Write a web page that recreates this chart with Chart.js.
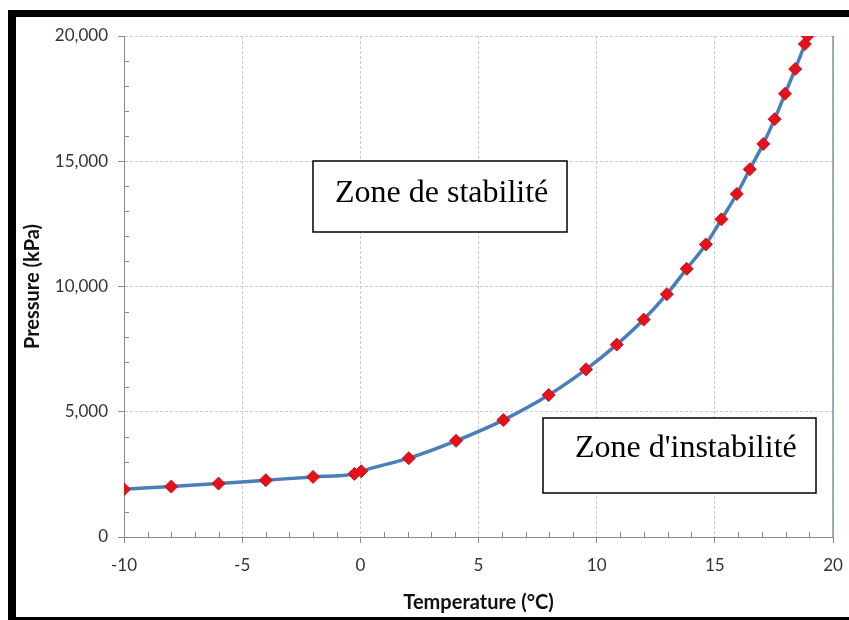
<!DOCTYPE html>
<html><head><meta charset="utf-8">
<script src="https://cdn.jsdelivr.net/npm/chart.js@4"></script>
<style>html,body{margin:0;padding:0;background:#fff;}#wrap{width:849px;height:620px;}</style>
</head><body><div id="wrap"><canvas id="c" width="849" height="620"></canvas></div>
<script>
const temperatures = [-10, -8, -6, -4, -2, -0.25, 0.04, 2.05, 4.05, 6.05, 7.97, 9.55, 10.85, 11.99, 12.97, 13.81, 14.62, 15.28, 15.93, 16.48, 17.05, 17.53, 17.97, 18.40, 18.81, 18.93];
const pressures = [1908, 2012, 2133, 2267, 2400, 2520, 2627, 3147, 3840, 4667, 5667, 6693, 7680, 8680, 9693, 10707, 11680, 12680, 13693, 14680, 15693, 16680, 17693, 18680, 19680, 20000];
const xMajorValues = [-10, -5, 0, 5, 10, 15, 20];
const xTickLabels = ['-10', '-5', '0', '5', '10', '15', '20'];
const yMajorValues = [0, 5000, 10000, 15000, 20000];
const yTickLabels = ['0', '5,000', '10,000', '15,000', '20,000'];
const zoneLabels = ['Zone de stabilité', "Zone d'instabilité"];
const xTitle = 'Temperature (°C)';
const yTitle = 'Pressure (kPa)';

const points = temperatures.map((t, i) => ({x: t, y: pressures[i]}));
const GRID = '#c3cbd6';
const AXIS = '#8a8a8a';
const isMajor = (arr, v) => arr.some(m => Math.abs(m - v) < 1e-6);

const decor = {
  id: 'decor',
  beforeDatasetsDraw(chart) {
    const ctx = chart.ctx, a = chart.chartArea;
    const xs = chart.scales.x, ys = chart.scales.y;
    ctx.save();
    ctx.strokeStyle = AXIS; ctx.lineWidth = 1;
    ctx.beginPath();
    xs.ticks.forEach(t => {
      if (!isMajor(xMajorValues, t.value)) {
        const px = Math.round(xs.getPixelForValue(t.value)) + 0.5;
        ctx.moveTo(px, a.bottom); ctx.lineTo(px, a.bottom - 5);
      }
    });
    ys.ticks.forEach(t => {
      if (!isMajor(yMajorValues, t.value)) {
        const py = Math.round(ys.getPixelForValue(t.value)) + 0.5;
        ctx.moveTo(a.left, py); ctx.lineTo(a.left + 5, py);
      }
    });
    ctx.stroke();
    ctx.strokeStyle = '#7f93ad'; ctx.lineWidth = 1.5;
    ctx.beginPath();
    ctx.moveTo(a.right, a.top); ctx.lineTo(a.right, a.bottom);
    ctx.stroke();
    ctx.restore();
  },
  afterDraw(chart) {
    const ctx = chart.ctx, a = chart.chartArea;
    ctx.save();
    const boxes = [
      {l: a.left + 189, t: a.top + 125, w: 254, h: 71, tx: a.left + 211, ty: a.top + 166},
      {l: a.left + 419, t: a.top + 382, w: 273, h: 75, tx: a.left + 451, ty: a.top + 421}
    ];
    boxes.forEach((b, i) => {
      ctx.fillStyle = '#fff';
      ctx.fillRect(b.l, b.t, b.w, b.h);
      ctx.strokeStyle = '#000'; ctx.lineWidth = 1.5;
      ctx.strokeRect(b.l, b.t, b.w, b.h);
      ctx.fillStyle = '#000';
      ctx.font = '32px "Liberation Serif", "Times New Roman", serif';
      ctx.textBaseline = 'alphabetic'; ctx.textAlign = 'left';
      ctx.fillText(zoneLabels[i], b.tx, b.ty);
    });
    ctx.fillStyle = '#000';
    ctx.fillRect(8, 10, 841, 7);
    ctx.fillRect(8, 10, 8, 610);
    ctx.fillRect(8, 617, 841, 3);
    ctx.restore();
  }
};

new Chart(document.getElementById('c'), {
  type: 'scatter',
  data: {
    datasets: [{
      data: points,
      showLine: true,
      borderColor: '#4a7ebb',
      borderWidth: 3.5,
      cubicInterpolationMode: 'monotone',
      pointStyle: 'rectRot',
      pointRadius: 6.5,
      pointHoverRadius: 6.5,
      pointBackgroundColor: '#e3121b',
      pointBorderColor: '#d0101a',
      pointBorderWidth: 1
    }]
  },
  options: {
    responsive: false,
    devicePixelRatio: 1,
    animation: false,
    layout: {padding: {left: 0, top: 36, right: 16, bottom: 0}},
    plugins: {legend: {display: false}, tooltip: {enabled: false}},
    scales: {
      x: {
        type: 'linear', min: -10, max: 20,
        afterFit(s) { s.height = 83; s.paddingLeft = 0; s.paddingRight = 0; },
        ticks: {
          stepSize: 1, autoSkip: false, maxRotation: 0, padding: 12,
          color: '#333', font: {family: 'Lato', size: 17},
          callback(v) { const i = xMajorValues.findIndex(m => Math.abs(m - v) < 1e-6); return i >= 0 ? xTickLabels[i] : ''; }
        },
        grid: {
          color: c => (c.tick && isMajor(xMajorValues, c.tick.value)) ? GRID : 'rgba(0,0,0,0)',
          tickColor: c => (c.tick && isMajor(xMajorValues, c.tick.value)) ? AXIS : 'rgba(0,0,0,0)',
          tickLength: 6, lineWidth: 1
        },
        border: {color: AXIS, width: 1, dash: [3, 2]},
        title: {display: true, text: xTitle, color: '#111', font: {family: 'Lato', size: 20, weight: 'bold'}, padding: {top: 0, bottom: 5}}
      },
      y: {
        type: 'linear', min: 0, max: 20000,
        afterFit(s) { s.width = 124; s.paddingTop = 0; s.paddingBottom = 0; },
        ticks: {
          stepSize: 1000, autoSkip: false, padding: 10,
          color: '#333', font: {family: 'Lato', size: 17},
          callback(v) { const i = yMajorValues.findIndex(m => Math.abs(m - v) < 1e-6); return i >= 0 ? yTickLabels[i] : ''; }
        },
        grid: {
          color: c => (c.tick && isMajor(yMajorValues, c.tick.value)) ? GRID : 'rgba(0,0,0,0)',
          tickColor: c => (c.tick && isMajor(yMajorValues, c.tick.value)) ? AXIS : 'rgba(0,0,0,0)',
          tickLength: 6, lineWidth: 1
        },
        border: {color: AXIS, width: 1, dash: [3, 2]},
        title: {display: true, text: yTitle, color: '#111', font: {family: 'Lato', size: 20, weight: 'bold'}, padding: {top: 21, bottom: 0}}
      }
    }
  },
  plugins: [decor]
});
</script>
</body></html>
